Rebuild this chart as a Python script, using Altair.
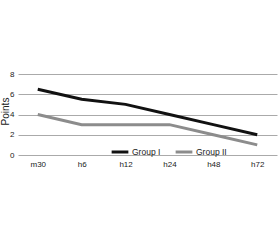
import altair as alt
import pandas as pd

times = ["m30", "h6", "h12", "h24", "h48", "h72"]
group1 = [6.5, 5.5, 5.0, 4.0, 3.0, 2.0]
group2 = [4.0, 3.0, 3.0, 3.0, 2.0, 1.0]
groups = ["Group I", "Group II"]

rows = []
for t, a, b in zip(times, group1, group2):
    rows.append({"time": t, "group": groups[0], "value": a})
    rows.append({"time": t, "group": groups[1], "value": b})
df = pd.DataFrame(rows)

chart = alt.Chart(df).mark_line(strokeWidth=3).encode(
    x=alt.X("time:O", sort=times,
            scale=alt.Scale(type="point", padding=0.45),
            axis=alt.Axis(title=None, labelAngle=0, tickSize=0, domain=False,
                          labelPadding=5, labelFontSize=8, labelColor="#222",
                          labelFont="Liberation Sans", grid=False)),
    y=alt.Y("value:Q", scale=alt.Scale(domain=[0, 8], nice=False),
            axis=alt.Axis(title="Points", values=[0, 2, 4, 6, 8], tickSize=0,
                          domain=False, labelPadding=4, labelFontSize=8,
                          labelColor="#222", labelFont="Liberation Sans",
                          titleFont="Liberation Sans", titleFontSize=10,
                          titleFontWeight="normal", titleColor="#222",
                          titleX=-13, titleY=37, titleAngle=270,
                          titleAlign="center", titleBaseline="middle",
                          gridColor="#aaaaaa", gridWidth=1)),
    color=alt.Color("group:N", sort=groups,
                    scale=alt.Scale(domain=groups, range=["#111111", "#8c8c8c"]),
                    legend=alt.Legend(title=None, orient="none", direction="horizontal",
                                      legendX=92, legendY=68, symbolType="stroke",
                                      symbolStrokeWidth=3, symbolSize=280,
                                      labelFontSize=8.5, labelFont="Liberation Sans",
                                      labelColor="#222", columnPadding=8,
                                      labelOffset=2)),
).properties(
    width=259, height=81,
    autosize=alt.AutoSizeParams(type="none"),
    padding={"left": 18, "top": 74, "right": 3, "bottom": 85},
    background="white",
).configure_view(stroke=None)

chart.save("out.html", embed_options={"renderer": "svg", "actions": False})
